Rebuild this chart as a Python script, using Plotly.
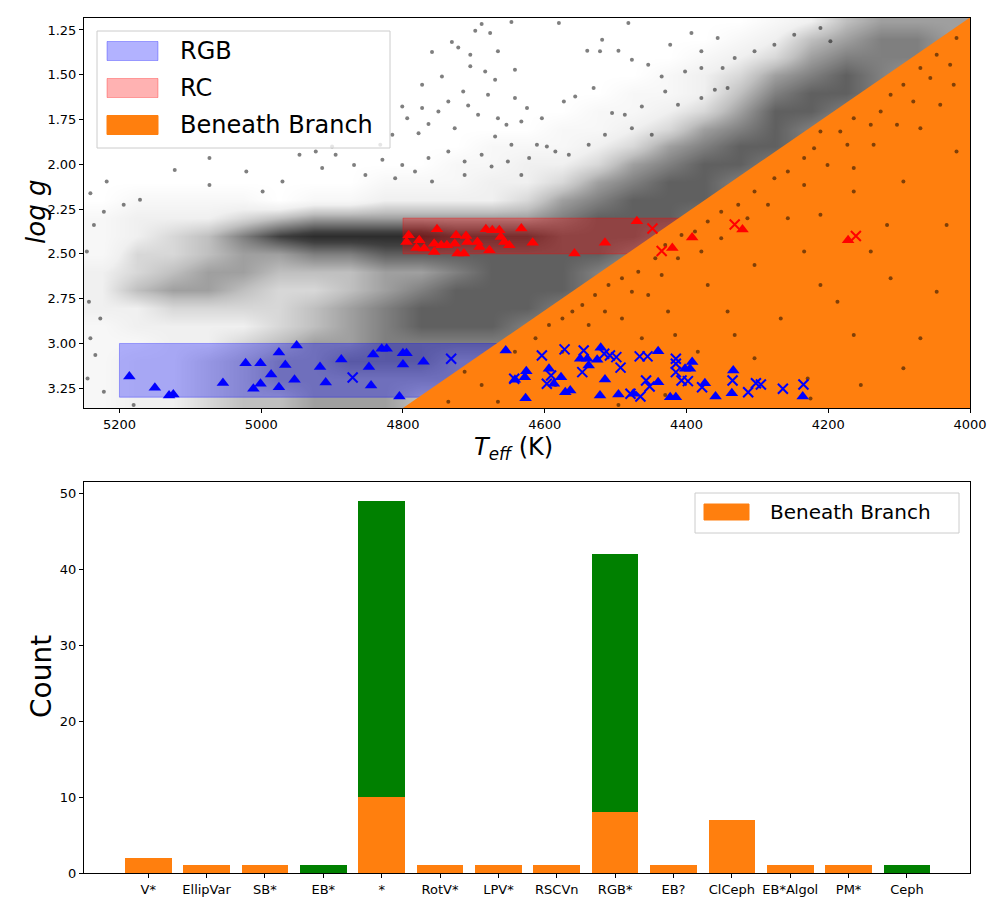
import plotly.graph_objects as go

# ---- top panel: HR-diagram style field + selected stars ----
# background star density (0 = empty, 9 = black)
grid_teff = [5225, 5175, 5125, 5075, 5025, 4975, 4925, 4875, 4825, 4775, 4725, 4675, 4625,
             4575, 4525, 4475, 4425, 4375, 4325, 4275, 4225, 4175, 4125, 4075, 4025]
grid_logg = [1.2, 1.3, 1.4, 1.5, 1.6, 1.7, 1.8, 1.9, 2.0, 2.1, 2.2, 2.3,
             2.4, 2.5, 2.6, 2.7, 2.8, 2.9, 3.0, 3.1, 3.2, 3.3, 3.4]
density = [
    [0, 0, 0, 0, 0, 0, 0, 0, 0, 0, 0, 0, 0, 0, 0, 0, 0, 0, 0, 1, 2, 4, 5, 5, 5],
    [0, 0, 0, 0, 0, 0, 0, 0, 0, 0, 0, 0, 0, 0, 0, 0, 0, 0, 1, 2, 4, 5, 6, 6, 5],
    [0, 0, 0, 0, 0, 0, 0, 0, 0, 0, 0, 0, 0, 0, 0, 0, 0, 1, 2, 3, 5, 6, 6, 6, 5],
    [0, 0, 0, 0, 0, 0, 0, 0, 0, 0, 0, 0, 0, 0, 0, 0, 1, 2, 3, 5, 6, 7, 6, 5, 4],
    [0, 0, 0, 0, 0, 0, 0, 0, 0, 0, 0, 0, 0, 0, 0, 1, 1, 2, 4, 6, 7, 7, 6, 5, 4],
    [0, 0, 0, 0, 0, 0, 0, 0, 0, 0, 0, 0, 0, 0, 1, 1, 2, 3, 5, 7, 7, 6, 5, 4, 3],
    [0, 0, 0, 0, 0, 0, 0, 0, 0, 0, 0, 0, 0, 1, 1, 2, 3, 5, 6, 7, 6, 5, 4, 3, 3],
    [0, 0, 0, 0, 0, 0, 0, 0, 0, 0, 0, 1, 1, 1, 2, 3, 5, 6, 7, 7, 6, 5, 4, 3, 3],
    [0, 0, 0, 0, 0, 0, 0, 0, 0, 0, 1, 1, 2, 2, 3, 5, 6, 7, 7, 6, 5, 4, 3, 3, 3],
    [0, 0, 0, 0, 0, 0, 0, 0, 1, 1, 1, 2, 2, 3, 5, 6, 7, 7, 6, 5, 4, 3, 3, 3, 3],
    [0, 1, 1, 1, 1, 0, 1, 1, 2, 2, 2, 2, 3, 5, 6, 7, 7, 7, 6, 5, 4, 3, 3, 3, 3],
    [1, 2, 2, 2, 3, 4, 5, 5, 5, 5, 5, 5, 5, 6, 7, 7, 7, 6, 5, 4, 3, 3, 3, 3, 3],
    [1, 2, 3, 4, 6, 8, 9, 9, 9, 9, 8, 8, 8, 7, 7, 7, 6, 5, 4, 3, 3, 3, 3, 3, 3],
    [1, 3, 3, 4, 5, 5, 6, 6, 7, 7, 7, 7, 7, 7, 7, 6, 5, 4, 3, 3, 3, 3, 3, 3, 3],
    [2, 3, 4, 5, 5, 4, 4, 4, 5, 5, 6, 7, 7, 7, 6, 5, 4, 3, 3, 3, 3, 3, 3, 3, 3],
    [2, 4, 5, 5, 4, 3, 3, 4, 5, 6, 7, 7, 7, 7, 6, 5, 4, 3, 3, 3, 3, 3, 3, 3, 3],
    [2, 2, 3, 3, 3, 3, 4, 5, 6, 7, 7, 7, 7, 6, 5, 4, 3, 3, 3, 3, 3, 3, 3, 3, 3],
    [1, 2, 2, 2, 2, 3, 4, 5, 6, 7, 7, 7, 6, 6, 5, 4, 3, 3, 3, 3, 3, 3, 3, 3, 3],
    [1, 1, 2, 2, 3, 4, 5, 5, 6, 6, 6, 6, 6, 5, 4, 3, 3, 3, 3, 3, 3, 3, 3, 3, 3],
    [1, 2, 2, 3, 4, 5, 5, 6, 6, 6, 5, 5, 5, 4, 4, 3, 3, 3, 3, 3, 3, 3, 3, 3, 3],
    [1, 2, 2, 3, 4, 5, 5, 5, 5, 5, 5, 5, 4, 4, 3, 3, 3, 3, 3, 3, 3, 3, 3, 3, 3],
    [1, 2, 2, 3, 4, 4, 5, 5, 5, 4, 4, 4, 4, 3, 3, 3, 3, 3, 3, 3, 3, 3, 3, 3, 3],
    [1, 2, 2, 3, 4, 4, 5, 5, 5, 4, 4, 4, 4, 3, 3, 3, 3, 3, 3, 3, 3, 3, 3, 3, 3],
]

# isolated field stars in the sparse parts
field_teff = [4689, 4647, 4698, 4677, 4731, 4722, 4705, 4759, 4666, 4642, 4684, 4670, 4705, 4745,
              4773, 4715, 4680, 4642, 4736, 4750, 4773, 4801, 4794, 4764, 4708, 4694, 4666, 4654,
              4633, 4670, 4647, 4727, 4778, 4815, 4832, 4900, 4923, 4946, 4970, 5021, 5073, 5122,
              5218, 5241, 4895, 4869, 4829, 4801, 4783, 4764, 4736, 4713, 4689, 4675, 4652, 4633,
              4853, 4811, 4759, 4713, 4914, 4998, 5073, 5171, 5194, 5222, 5236, 5246, 5243, 5227,
              5241, 5234, 5245, 5222, 5180,
              4580, 4519, 4482, 4540, 4496, 4522, 4477, 4454, 4423, 4393, 4379, 4356, 4402, 4435,
              4531, 4557, 4573, 4625, 4604, 4505, 4487, 4463, 4430, 4412, 4379, 4349, 4332, 4304,
              4276, 4248, 4211, 4197, 4360, 4379, 4342, 4611, 4597, 4585, 4566, 4622, 4538, 4515,
              4477, 4449,
              4019, 4047, 4028, 4070, 4056, 4023, 4094, 4112, 4080, 4042, 4126, 4164, 4140, 4103,
              4070, 4183, 4211, 4173, 4136, 4220, 4234, 4201, 4164, 4257, 4276, 4234, 4094, 4304,
              4285, 4327, 4351, 4314, 4370, 4388, 4351, 4407, 4430, 4412, 4379, 4444, 4468, 4435,
              4491, 4510, 4477, 4529, 4547, 4515, 4561, 4575, 4594, 4538, 4491, 4454, 4426, 4370,
              4342, 4304, 4257, 4211, 4164, 4117, 4140, 4234, 4211, 4187, 4267, 4332, 4384, 4304,
              4229, 4154, 4070, 4033, 4019, 4047, 4094, 4416, 4463, 4575, 4613, 4585, 4496, 4112,
              4164, 4225, 4430, 4736, 4689, 4642, 4666, 4713]
field_logg = [1.217, 1.205, 1.254, 1.267, 1.317, 1.347, 1.388, 1.373, 1.369, 1.472, 1.481, 1.528,
              1.453, 1.509, 1.556, 1.593, 1.611, 1.630, 1.649, 1.705, 1.686, 1.677, 1.742, 1.775,
              1.671, 1.723, 1.742, 1.779, 1.761, 1.844, 1.891, 1.798, 1.826, 1.835, 1.891, 1.900,
              1.928, 1.947, 2.096, 2.040, 1.965, 2.031, 2.096, 2.161, 1.947, 2.003, 1.975, 2.003,
              2.040, 1.965, 1.928, 1.984, 1.947, 2.012, 1.984, 2.059, 2.059, 2.077, 2.096, 2.059,
              2.021, 2.152, 2.115, 2.198, 2.226, 2.264, 2.338, 2.487, 2.767, 2.860, 2.971, 3.065,
              3.195, 3.270, 3.344,
              1.211, 1.304, 1.211, 1.366, 1.366, 1.369, 1.416, 1.444, 1.332, 1.267, 1.369, 1.295,
              1.481, 1.509, 1.574, 1.621, 1.649, 1.686, 1.742, 1.714, 1.723, 1.677, 1.593, 1.667,
              1.462, 1.462, 1.407, 1.369, 1.332, 1.276, 1.239, 1.313, 1.584, 1.630, 1.574, 1.891,
              1.900, 1.928, 1.947, 1.965, 1.891, 1.835, 1.798, 1.835,
              1.295, 1.388, 1.444, 1.462, 1.518, 1.556, 1.556, 1.611, 1.649, 1.667, 1.705, 1.742,
              1.779, 1.779, 1.798, 1.816, 1.816, 1.891, 1.891, 1.910, 1.965, 2.003, 2.021, 2.040,
              2.077, 2.115, 2.096, 2.152, 2.226, 2.226, 2.264, 2.301, 2.319, 2.375, 2.413, 2.394,
              2.450, 2.524, 2.487, 2.524, 2.599, 2.618, 2.636, 2.673, 2.711, 2.729, 2.785, 2.822,
              2.822, 2.860, 2.897, 2.897, 2.860, 2.729, 2.822, 2.673, 2.822, 2.562, 2.301, 2.282,
              2.152, 2.338, 2.487, 2.487, 2.673, 2.767, 2.860, 2.953, 3.046, 3.083, 3.195, 3.232,
              2.971, 2.338, 1.928, 2.711, 3.139, 2.953, 2.971, 3.046, 2.971, 3.232, 3.344, 2.636,
              2.953, 3.307, 3.288, 3.325, 3.232, 3.046, 3.325, 3.158]

# selection regions
rgb_box_teff = [5200, 4600, 4600, 5200, 5200]
rgb_box_logg = [3.00, 3.00, 3.30, 3.30, 3.00]
rc_box_teff = [4800, 4400, 4400, 4800, 4800]
rc_box_logg = [2.30, 2.30, 2.50, 2.50, 2.30]
branch_teff = [4830, 3950, 3950, 4830]
branch_logg = [3.442, 1.044, 3.442, 3.442]

# flagged stars
blue_tri_teff = [5186, 5150, 5130, 5124, 5054, 5022, 5001, 5011, 5001, 4986, 4975, 4966, 4975, 4950,
                 4953, 4917, 4909, 4887, 4848, 4845, 4842, 4830, 4823, 4800, 4795, 4800, 4771, 4805,
                 4655, 4626, 4628, 4642, 4627, 4594, 4587, 4577, 4571, 4564, 4550, 4540, 4538, 4521,
                 4526, 4515, 4522, 4496, 4475, 4440, 4440, 4423, 4415, 4402, 4392, 4395, 4374, 4359,
                 4334, 4336, 4236]
blue_tri_logg = [3.184, 3.247, 3.29, 3.285, 3.22, 3.11, 3.11, 3.253, 3.225, 3.173, 3.05, 3.12, 3.244,
                 3.011, 3.203, 3.132, 3.218, 3.089, 3.132, 3.235, 3.061, 3.03, 3.03, 3.054, 3.054,
                 3.117, 3.102, 3.296,
                 3.039, 3.155, 3.188, 3.203, 3.306, 3.141, 3.225, 3.188, 3.272, 3.262, 3.085, 3.085,
                 3.123, 3.024, 3.091, 3.201, 3.29, 3.285, 3.281, 3.043, 3.216, 3.30, 3.30, 3.141,
                 3.104, 3.141, 3.222, 3.296, 3.151, 3.278, 3.296]
blue_x_teff = [4871, 4732, 4643, 4604, 4572, 4591, 4597, 4545, 4547, 4516, 4508, 4499, 4493, 4466,
               4455, 4457, 4452, 4479, 4465, 4415, 4415, 4415, 4407, 4398, 4378, 4335, 4313, 4302,
               4295, 4264, 4235]
blue_x_logg = [3.19, 3.085, 3.197, 3.067, 3.033, 3.179, 3.225, 3.039, 3.16, 3.057, 3.067, 3.076,
               3.135, 3.072, 3.072, 3.207, 3.24, 3.281, 3.296, 3.085, 3.113, 3.16, 3.207, 3.21,
               3.244, 3.207, 3.272, 3.222, 3.229, 3.253, 3.229]
red_tri_teff = [4792, 4795, 4777, 4781, 4770, 4752, 4756, 4756, 4746, 4738, 4725, 4727, 4723, 4714,
                4711, 4709, 4695, 4692, 4683, 4678, 4674, 4664, 4662, 4657, 4650, 4633, 4617, 4558,
                4470, 4515, 4392, 4420, 4321, 4172]
red_tri_logg = [2.396, 2.433, 2.424, 2.467, 2.47, 2.362, 2.443, 2.49, 2.452, 2.452, 2.396, 2.443,
                2.498, 2.498, 2.40, 2.433, 2.433, 2.461, 2.362, 2.48, 2.368, 2.368, 2.405, 2.433,
                2.452, 2.358, 2.437, 2.498, 2.318, 2.437, 2.409, 2.467, 2.364, 2.424]
red_x_teff = [4448, 4435, 4332, 4161]
red_x_logg = [2.358, 2.484, 2.336, 2.40]

teff_ticks = [5200, 5000, 4800, 4600, 4400, 4200, 4000]
logg_ticks = [1.25, 1.50, 1.75, 2.00, 2.25, 2.50, 2.75, 3.00, 3.25]

# ---- bottom panel: object types of the stars beneath the branch ----
types = ["V*", "EllipVar", "SB*", "EB*", "*", "RotV*", "LPV*", "RSCVn", "RGB*", "EB?",
         "ClCeph", "EB*Algol", "PM*", "Ceph"]
beneath_counts = [2, 1, 1, 0, 10, 1, 1, 1, 8, 1, 7, 1, 1, 0]
other_counts = [0, 0, 0, 1, 39, 0, 0, 0, 34, 0, 0, 0, 0, 1]

ORANGE = "#ff7f0e"
FONT = "DejaVu Sans"

fig = go.Figure()

# density shading, light for the thin parts and near black in the clump
fig.add_trace(go.Heatmap(
    x=grid_teff, y=grid_logg, z=density, zmin=0, zmax=10, zsmooth="best",
    colorscale=[[0, "rgba(0,0,0,0)"], [0.2, "rgba(0,0,0,0.06)"], [0.4, "rgba(0,0,0,0.25)"],
                [0.6, "rgba(0,0,0,0.5)"], [0.8, "rgba(0,0,0,0.75)"], [1, "rgba(0,0,0,0.9)"]],
    showscale=False, hoverinfo="skip", xaxis="x", yaxis="y"))

fig.add_trace(go.Scatter(
    x=rgb_box_teff, y=rgb_box_logg, mode="lines", fill="toself",
    fillcolor="rgba(0,0,255,0.3)", line=dict(color="rgba(0,0,255,0.3)", width=1),
    name="RGB", showlegend=False, hoverinfo="skip"))
fig.add_trace(go.Scatter(
    x=rc_box_teff, y=rc_box_logg, mode="lines", fill="toself",
    fillcolor="rgba(255,0,0,0.3)", line=dict(color="rgba(255,0,0,0.3)", width=1),
    name="RC", showlegend=False, hoverinfo="skip"))
fig.add_trace(go.Scatter(
    x=branch_teff, y=branch_logg, mode="lines", fill="toself",
    fillcolor=ORANGE, line=dict(color=ORANGE, width=0),
    name="Beneath Branch", showlegend=False, hoverinfo="skip"))

fig.add_trace(go.Scatter(
    x=field_teff, y=field_logg, mode="markers",
    marker=dict(color="rgba(0,0,0,0.5)", size=4), showlegend=False, hoverinfo="skip"))

fig.add_trace(go.Scatter(
    x=blue_tri_teff, y=blue_tri_logg, mode="markers",
    marker=dict(symbol="triangle-up", color="blue", size=11), showlegend=False))
fig.add_trace(go.Scatter(
    x=blue_x_teff, y=blue_x_logg, mode="markers",
    marker=dict(symbol="x-thin", size=10, line=dict(color="blue", width=2)), showlegend=False))
fig.add_trace(go.Scatter(
    x=red_tri_teff, y=red_tri_logg, mode="markers",
    marker=dict(symbol="triangle-up", color="red", size=11), showlegend=False))
fig.add_trace(go.Scatter(
    x=red_x_teff, y=red_x_logg, mode="markers",
    marker=dict(symbol="x-thin", size=10, line=dict(color="red", width=2)), showlegend=False))

fig.add_trace(go.Bar(
    x=types, y=beneath_counts, marker=dict(color=ORANGE, line=dict(width=0)),
    width=0.8, name="Beneath Branch", showlegend=False, xaxis="x2", yaxis="y2"))
fig.add_trace(go.Bar(
    x=types, y=other_counts, marker=dict(color="green", line=dict(width=0)),
    width=0.8, showlegend=False, xaxis="x2", yaxis="y2"))

axis_style = dict(showline=True, linecolor="black", linewidth=1, mirror=True, showgrid=False,
                  zeroline=False, ticks="outside", ticklen=4, tickcolor="black", automargin=False,
                  tickfont=dict(family=FONT, size=13, color="black"))

fig.update_layout(
    width=1000, height=909, margin=dict(l=0, r=0, t=0, b=0),
    paper_bgcolor="white", plot_bgcolor="white", barmode="stack", bargap=0.2,
    font=dict(family=FONT, color="black"), showlegend=False,
    xaxis=dict(domain=[0.084, 0.970], range=[5250, 4000], tickvals=teff_ticks,
               anchor="y", **axis_style),
    yaxis=dict(domain=[0.5512, 0.9802], range=[3.36, 1.183], tickvals=logg_ticks,
               tickformat=".2f", anchor="x", **axis_style),
    xaxis2=dict(domain=[0.084, 0.970], range=[-1.1, 14.08], type="category",
                anchor="y2", **axis_style),
    yaxis2=dict(domain=[0.0396, 0.4697], range=[0, 51.45], tickvals=[0, 10, 20, 30, 40, 50],
                anchor="x2", **axis_style),
)

# axis titles
fig.add_annotation(text="<i>T</i><sub><i>eff</i></sub> (K)", x=0.513, y=1 - 448 / 909,
                   xref="paper", yref="paper", xanchor="center", yanchor="middle",
                   showarrow=False, font=dict(size=24))
fig.add_annotation(text="<i>log g</i>", x=0.036, y=1 - 212 / 909, textangle=-90,
                   xref="paper", yref="paper", xanchor="center", yanchor="middle",
                   showarrow=False, font=dict(size=26))
fig.add_annotation(text="Count", x=0.041, y=1 - 677 / 909, textangle=-90,
                   xref="paper", yref="paper", xanchor="center", yanchor="middle",
                   showarrow=False, font=dict(size=28))

# legends drawn as boxes
def legend_frame(x0, x1, y0, y1):
    fig.add_shape(type="rect", xref="paper", yref="paper", x0=x0, x1=x1, y0=y0, y1=y1,
                  fillcolor="rgba(255,255,255,0.8)", line=dict(color="#cccccc", width=1))

def legend_item(x0, yc, w, h, gap, fill, edge, label, size):
    fig.add_shape(type="rect", xref="paper", yref="paper", x0=x0, x1=x0 + w / 1000,
                  y0=yc - h / 2 / 909, y1=yc + h / 2 / 909, fillcolor=fill,
                  line=dict(color=edge, width=1))
    fig.add_annotation(text=label, x=x0 + gap / 1000, y=yc, xref="paper", yref="paper",
                       xanchor="left", yanchor="middle", showarrow=False, font=dict(size=size))

legend_frame(0.097, 0.390, 1 - 148 / 909, 1 - 31 / 909)
legend_item(0.107, 1 - 51 / 909, 51, 19, 71, "rgba(0,0,255,0.3)", "rgba(0,0,255,0.3)", "RGB", 24)
legend_item(0.107, 1 - 88 / 909, 51, 19, 71, "rgba(255,0,0,0.3)", "rgba(255,0,0,0.3)", "RC", 24)
legend_item(0.107, 1 - 125 / 909, 51, 19, 71, ORANGE, ORANGE, "Beneath Branch", 24)

legend_frame(0.695, 0.959, 1 - 533 / 909, 1 - 493 / 909)
legend_item(0.704, 1 - 512 / 909, 45, 16, 64, ORANGE, ORANGE, "Beneath Branch", 20)

fig.write_html("out.html", config={"displayModeBar": False},
               post_script="document.body.style.margin='0';")
